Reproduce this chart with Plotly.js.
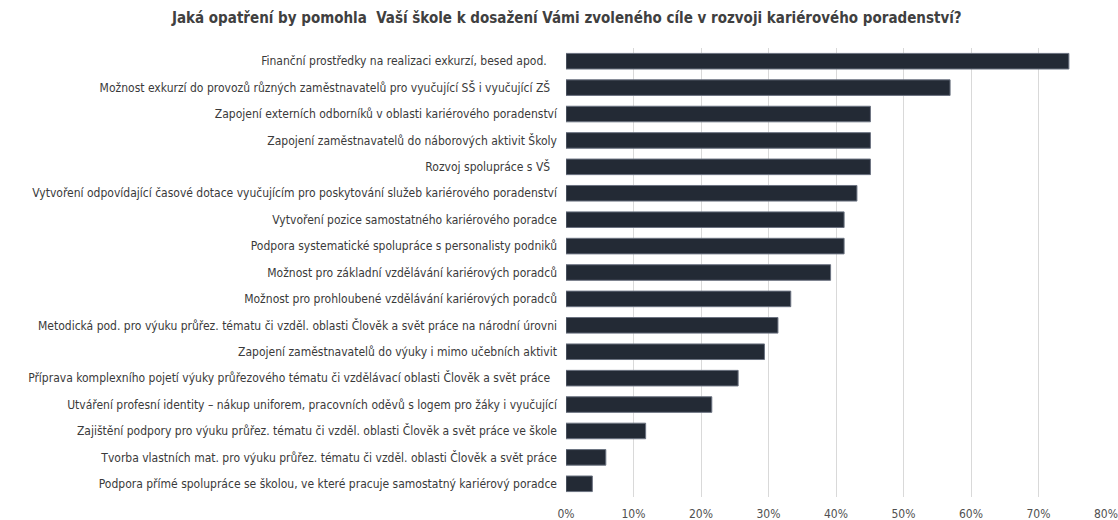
<!DOCTYPE html>
<html>
<head>
<meta charset="utf-8">
<script src="https://cdn.plot.ly/plotly-3.0.1.min.js"></script>
<style>html,body{margin:0;padding:0;background:#fff;}#chart{width:1118px;height:520px;}</style>
</head>
<body>
<div id="chart"></div>
<script>
const categories = [
  "Finanční prostředky na realizaci exkurzí, besed apod.\u00a0\u00a0\u00a0",
  "Možnost exkurzí do provozů různých zaměstnavatelů pro vyučující SŠ i vyučující ZŠ\u00a0\u00a0",
  "Zapojení externích odborníků v oblasti kariérového poradenství",
  "Zapojení zaměstnavatelů do náborových aktivit Školy",
  "Rozvoj spolupráce s VŠ\u00a0\u00a0",
  "Vytvoření odpovídající časové dotace vyučujícím pro poskytování služeb kariérového poradenství",
  "Vytvoření pozice samostatného kariérového poradce",
  "Podpora systematické spolupráce s personalisty podniků",
  "Možnost pro základní vzdělávání kariérových poradců",
  "Možnost pro prohloubené vzdělávání kariérových poradců",
  "Metodická pod. pro výuku průřez. tématu či vzděl. oblasti Člověk a svět práce na národní úrovni",
  "Zapojení zaměstnavatelů do výuky i mimo učebních aktivit",
  "Příprava komplexního pojetí výuky průřezového tématu či vzdělávací oblasti Člověk a svět práce\u00a0\u00a0",
  "Utváření profesní identity – nákup uniforem, pracovních oděvů s logem pro žáky i vyučující",
  "Zajištění podpory pro výuku průřez. tématu či vzděl. oblasti Člověk a svět práce ve škole",
  "Tvorba vlastních mat. pro výuku průřez. tématu či vzděl. oblasti Člověk a svět práce",
  "Podpora přímé spolupráce se školou, ve které pracuje samostatný kariérový poradce"
];
const values = [0.745, 0.569, 0.451, 0.451, 0.451, 0.431, 0.412, 0.412, 0.392, 0.333, 0.314, 0.294, 0.255, 0.216, 0.118, 0.059, 0.039];
const tickVals = [0, 0.1, 0.2, 0.3, 0.4, 0.5, 0.6, 0.7, 0.8];
const tickText = ["0%", "10%", "20%", "30%", "40%", "50%", "60%", "70%", "80%"];
const titleText = "Jaká opatření by pomohla&nbsp;&nbsp;Vaší škole k dosažení Vámi zvoleného cíle v rozvoji kariérového poradenství?";

const FONT = '"DejaVu Sans Condensed", "Liberation Sans Narrow", Arial, sans-serif';

const trace = {
  type: 'bar',
  orientation: 'h',
  x: values,
  y: categories,
  marker: {color: '#232a35', line: {color: '#6b7280', width: 1}},
  width: 0.59,
  hoverinfo: 'x+y'
};

const layout = {
  width: 1118,
  height: 520,
  paper_bgcolor: '#ffffff',
  plot_bgcolor: '#ffffff',
  margin: {l: 566, r: 12, t: 48, b: 23, pad: 0},
  showlegend: false,
  title: {
    text: '<b>' + titleText + '</b>',
    font: {family: FONT, size: 15, color: '#404040'},
    x: 0.507, xanchor: 'center',
    y: 0.965, yanchor: 'middle', yref: 'container'
  },
  xaxis: {
    range: [0, 0.8],
    tickvals: tickVals,
    ticktext: tickText,
    showgrid: true,
    gridcolor: '#d9d9d9',
    gridwidth: 1,
    zeroline: false,
    showline: false,
    ticks: '',
    ticklabelstandoff: 8,
    tickfont: {family: FONT, size: 12, color: '#505050'},
    fixedrange: true
  },
  yaxis: {
    type: 'category',
    categoryorder: 'array',
    categoryarray: categories,
    range: [16.5, -0.5],
    showgrid: false,
    zeroline: false,
    showline: false,
    ticks: '',
    ticklabelstandoff: 8,
    tickfont: {family: FONT, size: 12, color: '#3a3a3a'},
    fixedrange: true
  }
};

Plotly.newPlot('chart', [trace], layout, {displayModeBar: false, staticPlot: true});
</script>
</body>
</html>
